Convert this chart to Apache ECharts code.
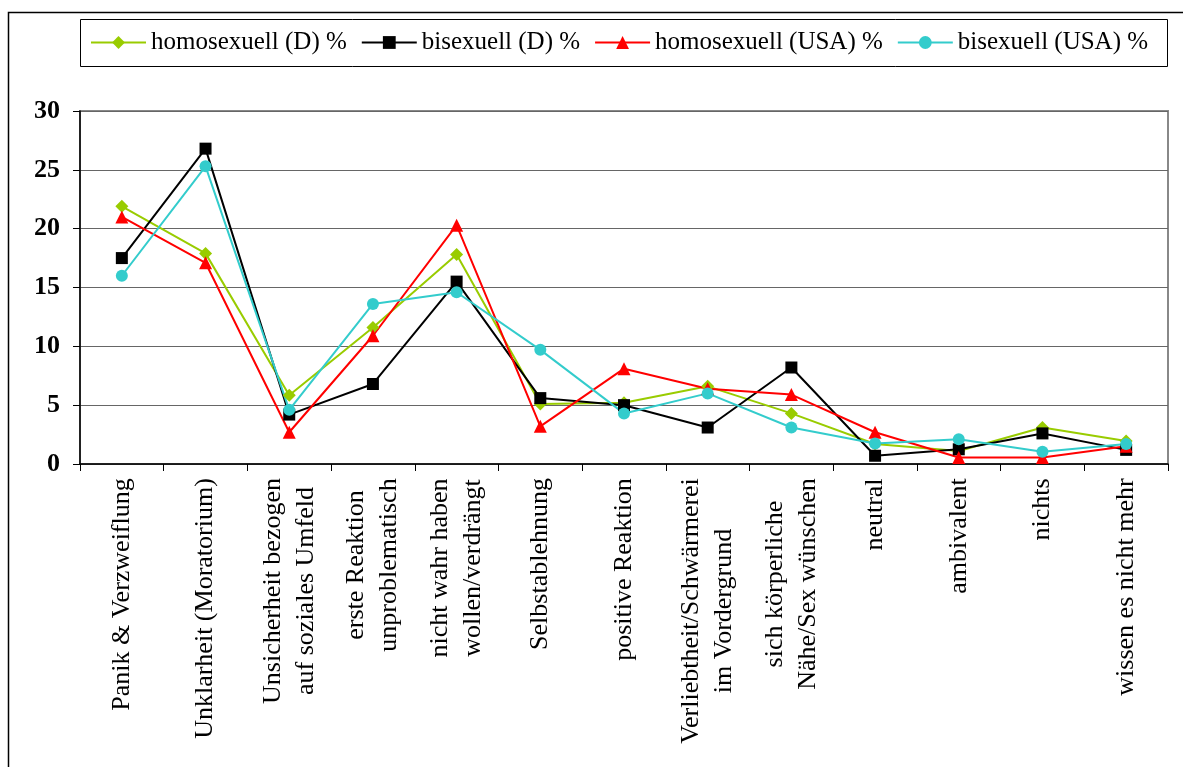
<!DOCTYPE html>
<html>
<head>
<meta charset="utf-8">
<script src="https://cdn.jsdelivr.net/npm/echarts@6/dist/echarts.min.js"></script>
<style>
html,body{margin:0;padding:0;background:#fff;}
#chart{width:1183px;height:767px;}
</style>
</head>
<body>
<div id="chart"></div>
<script>
const categories = [
  'Panik & Verzweiflung',
  'Unklarheit (Moratorium)',
  'Unsicherheit bezogen\nauf soziales Umfeld',
  'erste Reaktion\nunproblematisch',
  'nicht wahr haben\nwollen/verdrängt',
  'Selbstablehnung',
  'positive Reaktion',
  'Verliebtheit/Schwärmerei\nim Vordergrund',
  'sich körperliche\nNähe/Sex wünschen',
  'neutral',
  'ambivalent',
  'nichts',
  'wissen es nicht mehr'
];
const seriesNames = ['homosexuell (D) %', 'bisexuell (D) %', 'homosexuell (USA) %', 'bisexuell (USA) %'];
const homoD   = [21.9, 17.9, 5.85, 11.6, 17.8, 5.1, 5.2, 6.6, 4.3, 1.7, 1.1, 3.1, 1.95];
const biD     = [17.5, 26.8, 4.2, 6.8, 15.5, 5.6, 5.0, 3.1, 8.2, 0.7, 1.25, 2.6, 1.2];
const homoUSA = [21.0, 17.1, 2.7, 10.9, 20.3, 3.2, 8.1, 6.4, 5.9, 2.7, 0.55, 0.55, 1.5];
const biUSA   = [16.0, 25.3, 4.6, 13.6, 14.6, 9.7, 4.3, 6.0, 3.1, 1.75, 2.1, 1.05, 1.7];
const yTicks = [0, 5, 10, 15, 20, 25, 30];

const FONT = '"Liberation Serif", "Times New Roman", serif';
const CAT_SIZE = 26;

// measure widths so multi-line labels are centred line by line
const ctx = document.createElement('canvas').getContext('2d');
ctx.font = CAT_SIZE + 'px ' + FONT;
const rich = {};
categories.forEach((c, i) => {
  const w = Math.max(...c.split('\n').map(l => ctx.measureText(l).width));
  rich['c' + i] = {width: Math.ceil(w) + 2, align: 'center', fontSize: CAT_SIZE, fontFamily: FONT, lineHeight: 33, color: '#000'};
});

const colors = ['#99CC00', '#000000', '#FF0000', '#33CCCC'];
const symbols = ['diamond', 'rect', 'triangle', 'circle'];
const sizes = [13, 12, 13, 12];
const dataArr = [homoD, biD, homoUSA, biUSA];

const chart = echarts.init(document.getElementById('chart'));
chart.setOption({
  animation: false,
  backgroundColor: '#fff',
  graphic: [
    {type: 'rect', shape: {x: 8.5, y: 12.5, width: 1200, height: 800}, style: {fill: 'none', stroke: '#000', lineWidth: 1.5}, z: 0},
    {type: 'rect', shape: {x: 80.5, y: 19.5, width: 1087, height: 47}, style: {fill: '#fff', stroke: '#000', lineWidth: 1}, z: 0}
  ],
  legend: {
    left: 90,
    top: 30,
    padding: 0,
    itemWidth: 55,
    itemHeight: 16,
    itemGap: 14,
    textStyle: {fontFamily: FONT, fontSize: 25, color: '#000'},
    data: seriesNames
  },
  grid: {
    left: 80, right: 15, top: 111, bottom: 303,
    show: true, borderColor: '#888', borderWidth: 2, containLabel: false
  },
  xAxis: {
    type: 'category',
    data: categories,
    boundaryGap: true,
    axisLine: {lineStyle: {color: '#000', width: 1.5}},
    axisTick: {show: true, length: 7, alignWithLabel: false, lineStyle: {color: '#000'}},
    axisLabel: {
      interval: 0,
      rotate: 90,
      margin: 13,
      fontFamily: FONT,
      fontSize: CAT_SIZE,
      color: '#000',
      formatter: (v, i) => v.split('\n').map(l => '{c' + i + '|' + l + '}').join('\n'),
      rich: rich
    }
  },
  yAxis: {
    type: 'value',
    min: yTicks[0],
    max: yTicks[yTicks.length - 1],
    interval: 5,
    axisLine: {show: true, lineStyle: {color: '#000', width: 1.5}},
    axisTick: {show: true, length: 7, lineStyle: {color: '#000'}},
    axisLabel: {fontFamily: FONT, fontSize: 26, fontWeight: 'bold', color: '#000', margin: 20},
    splitLine: {show: true, lineStyle: {color: '#666', width: 1}}
  },
  series: seriesNames.map((n, k) => ({
    name: n,
    type: 'line',
    data: dataArr[k],
    symbol: symbols[k],
    symbolSize: sizes[k],
    showAllSymbol: true,
    lineStyle: {color: colors[k], width: 2},
    itemStyle: {color: colors[k], borderWidth: 0},
    emphasis: {disabled: true}
  }))
});
</script>
</body>
</html>
